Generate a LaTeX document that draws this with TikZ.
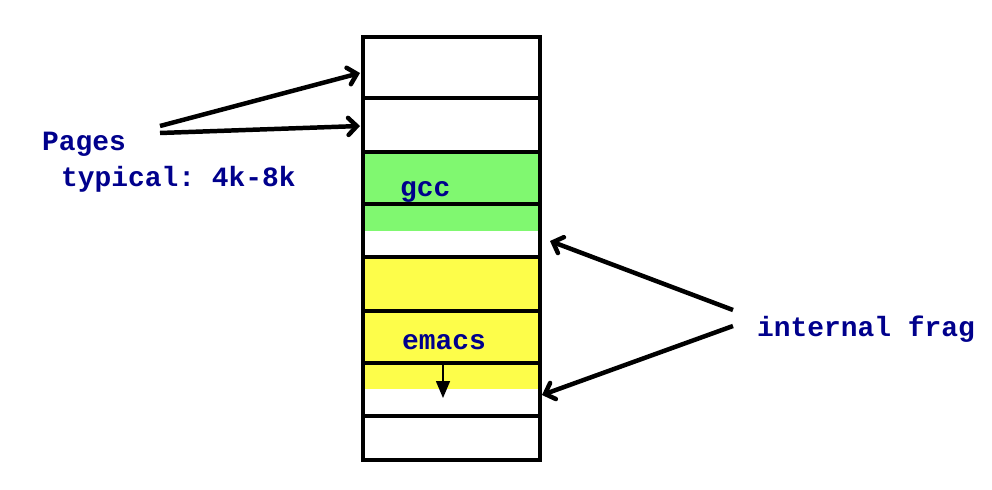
\documentclass[tikz,border=0pt]{standalone}
\usepackage{fontspec}
\setmonofont{Liberation Mono}
\usepackage{tikz}
\usetikzlibrary{arrows}

\definecolor{labelblue}{RGB}{0,0,140}
\definecolor{gccgreen}{RGB}{128,248,112}
\definecolor{emacsyellow}{RGB}{253,253,74}

\tikzset{
  lbl/.style={anchor=base west,inner sep=0pt,text=labelblue,
    font=\ttfamily\bfseries\fontsize{28}{30}\selectfont},
  ptr/.style={->,>=angle 90,line width=4.5pt},
}

\begin{document}
\begin{tikzpicture}[x=1bp,y=-1bp]
\useasboundingbox (0,0) rectangle (992,490);
% memory used by the two programs
\fill[gccgreen] (363,152) rectangle (540,231);
\fill[emacsyellow] (363,257) rectangle (540,389);
% page boundaries
\foreach \y in {98,152,204,257,311,363,416}
  \draw[line width=4.5pt] (363,\y) -- (540,\y);
\draw[line width=4.5pt] (363,37) rectangle (540,460);
\node[lbl] (gcc) at (400,197) {gcc};
\node[lbl] (emacs) at (402,350) {emacs};
\coordinate (grow) at (443,364);
\coordinate (growend) at (443,398);
\draw[-triangle 45,line width=3pt] (grow) -- (growend);
% labels and pointers
\node[lbl] (pages) at (42,151) {Pages};
\node[lbl] (typical) at (61,187) {typical: 4k-8k};
\node[lbl] (frag) at (757,337) {internal frag};
\coordinate (pa) at (160,126);
\coordinate (pb) at (160,133);
\coordinate (pageone) at (360,73);
\coordinate (pagetwo) at (360,126);
\coordinate (fa) at (733,310);
\coordinate (fb) at (733,326);
\coordinate (gccfrag) at (550,241);
\coordinate (emacsfrag) at (542,395);
\draw[ptr] (pa) -- (pageone);
\draw[ptr] (pb) -- (pagetwo);
\draw[ptr] (fa) -- (gccfrag);
\draw[ptr] (fb) -- (emacsfrag);
\end{tikzpicture}
\end{document}
